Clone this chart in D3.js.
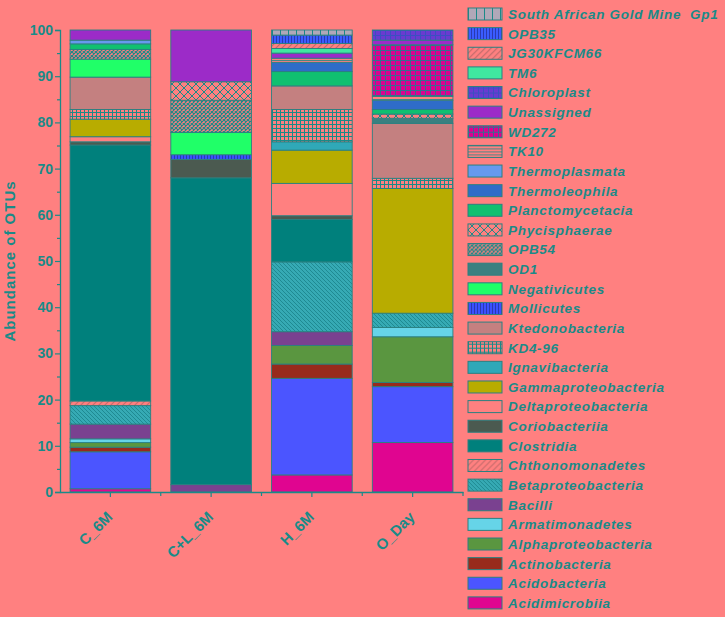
<!DOCTYPE html>
<html>
<head>
<meta charset="utf-8">
<script src="https://cdn.jsdelivr.net/npm/d3@7"></script>
<style>
  body { margin: 0; background: #ff8080; }
  svg { display: block; font-family: Arial, "Liberation Sans", sans-serif; }
</style>
</head>
<body>
<svg id="chart" width="725" height="617"></svg>
<script>
var samples = ['C_6M', 'C+L_6M', 'H_6M', 'O_Day'];

// stacking order, bottom to top
var taxa = [
  'Acidimicrobiia', 'Acidobacteria', 'Actinobacteria', 'Alphaproteobacteria',
  'Armatimonadetes', 'Bacilli', 'Betaproteobacteria', 'Chthonomonadetes',
  'Clostridia', 'Coriobacteriia', 'Deltaproteobacteria', 'Gammaproteobacteria',
  'Ignavibacteria', 'KD4-96', 'Ktedonobacteria', 'Mollicutes', 'Negativicutes',
  'OD1', 'OPB54', 'Phycisphaerae', 'Planctomycetacia', 'Thermoleophila',
  'Thermoplasmata', 'TK10', 'WD272', 'Unassigned', 'Chloroplast', 'TM6',
  'JG30KFCM66', 'OPB35', 'South African Gold Mine  Gp1'
];

var c6m   = [0.7, 8.0, 1.0, 1.0, 0.8, 3.2, 4.0, 1.0, 55.4, 0.7, 1.1, 3.8, 0, 2.1, 7.0, 0, 3.9, 0, 2.1, 0, 1.2, 0, 0.8, 0, 0, 2.2, 0, 0, 0, 0, 0];
var cl6m  = [0, 0, 0, 0, 0, 1.6, 0, 0, 66.4, 4.0, 0, 0, 0, 0, 0, 1.0, 4.8, 0, 7.0, 4.0, 0, 0, 0, 0, 0, 11.2, 0, 0, 0, 0, 0];
var h6m   = [3.7, 20.9, 3.1, 4.0, 0, 3.0, 15.1, 0, 9.2, 0.8, 7.0, 7.2, 1.8, 7.0, 5.1, 0, 0, 0, 0, 0, 3.1, 2.0, 0, 0.9, 0, 1.1, 0, 1.0, 1.1, 1.8, 1.1];
var oDay  = [10.7, 12.1, 0.9, 9.9, 2.0, 0, 3.1, 0, 0, 0, 0, 27.0, 0, 2.2, 11.9, 0, 0, 1.1, 0, 0.9, 1.0, 2.0, 0, 0.9, 11.1, 1.0, 2.2, 0, 0, 0, 0];

var yTicks = [0, 10, 20, 30, 40, 50, 60, 70, 80, 90, 100];

var ink = '#1a8a88';
var bg = '#ff8080';

var fills = {
  'Acidimicrobiia': '#e00590',
  'Acidobacteria': '#4b55ff',
  'Actinobacteria': '#982a1c',
  'Alphaproteobacteria': '#5a9640',
  'Armatimonadetes': '#66d4e8',
  'Bacilli': '#7a4190',
  'Betaproteobacteria': 'url(#pBeta)',
  'Chthonomonadetes': 'url(#pChth)',
  'Clostridia': '#00807c',
  'Coriobacteriia': '#4b5a50',
  'Deltaproteobacteria': bg,
  'Gammaproteobacteria': '#b8ac00',
  'Ignavibacteria': '#30a8b8',
  'KD4-96': 'url(#pKD)',
  'Ktedonobacteria': '#c48080',
  'Mollicutes': 'url(#pMoll)',
  'Negativicutes': '#20ff68',
  'OD1': '#3a8080',
  'OPB54': 'url(#pOPB54)',
  'Phycisphaerae': 'url(#pPhyc)',
  'Planctomycetacia': '#10c070',
  'Thermoleophila': '#2f6cc8',
  'Thermoplasmata': '#6699ee',
  'TK10': 'url(#pTK10)',
  'WD272': 'url(#pWD)',
  'Unassigned': '#9c2bc8',
  'Chloroplast': 'url(#pChlo)',
  'TM6': '#40e8a0',
  'JG30KFCM66': 'url(#pJG)',
  'OPB35': 'url(#pOPB35)',
  'South African Gold Mine  Gp1': 'url(#pSAGM)'
};

var svg = d3.select('#chart');
var defs = svg.append('defs');

// helper to add a pattern with a background and some line paths
var addPattern = function (id, size, base, lines, lineColor, width) {
  var p = defs.append('pattern')
    .attr('id', id)
    .attr('width', size)
    .attr('height', size)
    .attr('patternUnits', 'userSpaceOnUse');
  p.append('rect').attr('width', size).attr('height', size).attr('fill', base);
  p.append('path').attr('d', lines).attr('stroke', lineColor)
    .attr('stroke-width', width).attr('fill', 'none');
};

addPattern('pBeta', 4, '#36aab4', 'M-1,3 L1,5 M0,0 L4,4 M3,-1 L5,1', '#1f8a92', 1);
addPattern('pChth', 6, bg, 'M-1,1 L1,-1 M0,6 L6,0 M5,7 L7,5', '#c86c6c', 1.2);
addPattern('pJG', 6, bg, 'M-1,1 L1,-1 M0,6 L6,0 M5,7 L7,5', '#c06a6a', 1.2);
addPattern('pKD', 4, bg, 'M0,0.5 H4 M0.5,0 V4', ink, 1);
addPattern('pMoll', 3, '#3c50ff', 'M0.5,0 V3', '#2a3ab0', 1);
addPattern('pOPB35', 3, '#3a5cff', 'M0.5,0 V3', '#2a3ab0', 1);
addPattern('pOPB54', 4, bg, 'M0,0 L4,4 M4,0 L0,4', ink, 1.2);
addPattern('pPhyc', 8, bg, 'M0,0 L8,8 M8,0 L0,8', ink, 1);
addPattern('pTK10', 3, bg, 'M0,0.5 H3', ink, 0.8);
addPattern('pWD', 5, '#dc0090', 'M0,0.5 H5 M0.5,0 V5', '#3a6a90', 1);
addPattern('pChlo', 5, '#6a3ad0', 'M0,0.5 H5 M0.5,0 V5', '#3a50c0', 1);
addPattern('pSAGM', 8, '#b0a8b8', 'M0.5,0 V8', ink, 1);

var margin = { left: 60, top: 30, bottom: 492, right: 463 };

var x = d3.scaleBand()
  .domain(samples)
  .range([margin.left, margin.right])
  .paddingInner(0.2)
  .paddingOuter(0.1);

var y = d3.scaleLinear()
  .domain([0, 100])
  .range([margin.bottom, margin.top]);

var columns = [c6m, cl6m, h6m, oDay];
var rows = samples.map(function (s, i) {
  var r = { sample: s };
  taxa.forEach(function (t, j) { r[t] = columns[i][j]; });
  return r;
});

var series = d3.stack().keys(taxa)(rows);

svg.append('g').selectAll('g')
  .data(series)
  .join('g')
  .attr('fill', function (d) { return fills[d.key]; })
  .selectAll('rect')
  .data(function (d) { return d.filter(function (p) { return p[1] - p[0] > 0; }); })
  .join('rect')
  .attr('x', function (d) { return x(d.data.sample); })
  .attr('width', x.bandwidth())
  .attr('y', function (d) { return y(d[1]); })
  .attr('height', function (d) { return y(d[0]) - y(d[1]); })
  .attr('stroke', '#2a8080')
  .attr('stroke-width', 0.9);

// y axis
var yAxis = svg.append('g')
  .attr('transform', 'translate(' + margin.left + ',0)')
  .call(d3.axisLeft(y).tickValues(yTicks).tickSize(5).tickPadding(2));

svg.append('g')
  .attr('transform', 'translate(' + margin.left + ',0)')
  .call(d3.axisLeft(y).tickValues(d3.range(5, 100, 10)).tickSize(3).tickFormat(''))
  .select('.domain').remove();

// x axis
var xAxis = svg.append('g')
  .attr('transform', 'translate(0,' + margin.bottom + ')')
  .call(d3.axisBottom(x).tickSize(5).tickSizeOuter(0).tickFormat(''));

var step = x.step();
svg.append('g').selectAll('line')
  .data(samples)
  .join('line')
  .attr('x1', function (d) { return x(d) + x.bandwidth() + step * 0.1; })
  .attr('x2', function (d) { return x(d) + x.bandwidth() + step * 0.1; })
  .attr('y1', margin.bottom)
  .attr('y2', margin.bottom + 4)
  .attr('stroke', ink)
  .attr('stroke-width', 1.2);

[yAxis, xAxis].forEach(function (a) {
  a.selectAll('.domain, line').attr('stroke', ink).attr('stroke-width', 1.3);
  a.selectAll('text')
    .attr('fill', ink)
    .style('font-size', '14px')
    .style('font-weight', 'bold');
});
svg.selectAll('.tick line').attr('stroke', ink).attr('stroke-width', 1.2);

svg.append('g').selectAll('text')
  .data(samples)
  .join('text')
  .attr('transform', function (d) {
    return 'translate(' + (x(d) + x.bandwidth() / 2 + 3) + ',' + (margin.bottom + 26) + ') rotate(-45)';
  })
  .attr('text-anchor', 'end')
  .attr('fill', ink)
  .style('font-size', '15px')
  .style('font-weight', 'bold')
  .text(function (d) { return d; });

svg.append('text')
  .attr('transform', 'translate(15,' + ((margin.top + margin.bottom) / 2) + ') rotate(-90)')
  .attr('text-anchor', 'middle')
  .attr('fill', ink)
  .style('font-size', '15px')
  .style('font-weight', 'bold')
  .style('letter-spacing', '1px')
  .text('Abundance of OTUs');

// legend, top entry is the last stacked taxon
var legendTaxa = taxa.slice().reverse();
var legend = svg.append('g').selectAll('g')
  .data(legendTaxa)
  .join('g')
  .attr('transform', function (d, i) { return 'translate(468,' + (14 + i * 19.63) + ')'; });

legend.append('rect')
  .attr('x', 0)
  .attr('y', -6)
  .attr('width', 34)
  .attr('height', 12)
  .attr('fill', function (d) { return fills[d]; })
  .attr('stroke', '#2a8080')
  .attr('stroke-width', 1);

legend.append('text')
  .attr('x', 40)
  .attr('dy', '0.36em')
  .attr('fill', ink)
  .style('font-size', '13.5px')
  .style('font-weight', 'bold')
  .style('font-style', 'italic')
  .style('letter-spacing', '0.7px')
  .style('white-space', 'pre')
  .text(function (d) { return d; });
</script>
</body>
</html>
